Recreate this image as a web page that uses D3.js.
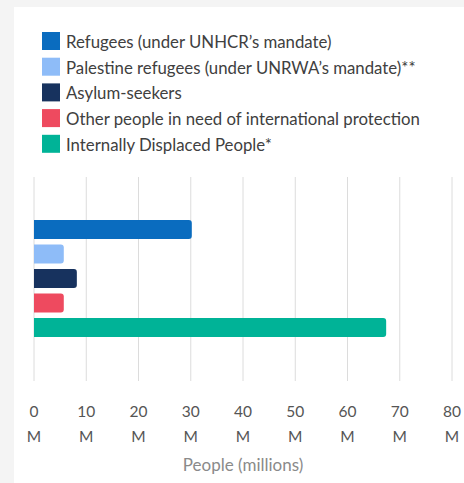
<!DOCTYPE html>
<html>
<head>
<meta charset="utf-8">
<script src="https://cdn.jsdelivr.net/npm/d3@7"></script>
<style>
  body { margin: 0; background: #f4f4f4; }
  svg { display: block; font-family: Lato, "Noto Sans", sans-serif; }
</style>
</head>
<body>
<div class="chart"></div>
<script>
const svgWidth = 464
const svgHeight = 483

// data (millions)
const categories = [
  "Refugees (under UNHCR’s mandate)",
  "Palestine refugees (under UNRWA’s mandate)**",
  "Asylum-seekers",
  "Other people in need of international protection",
  "Internally Displaced People*"
]
const values = [30.2, 5.7, 8.2, 5.7, 67.4]
const colors = ["#0a6cbf", "#8ebcf8", "#17325e", "#ee4a5f", "#00b397"]
const xTicks = [0, 10, 20, 30, 40, 50, 60, 70, 80]

let svg = d3
  .select(".chart")
  .append("svg")
  .attr("width", svgWidth)
  .attr("height", svgHeight)

// white card
svg.append("rect")
  .attr("x", 14)
  .attr("y", 7)
  .attr("width", svgWidth - 14)
  .attr("height", svgHeight - 7)
  .attr("fill", "#fff")

// legend
let legend = svg.append("g").attr("transform", "translate(42, 32)")
let rows = legend.selectAll("g")
  .data(categories)
  .enter()
  .append("g")
  .attr("transform", (d, i) => `translate(0, ${i * 25.7})`)

rows.append("rect")
  .attr("width", 18)
  .attr("height", 18)
  .attr("fill", (d, i) => colors[i])

rows.append("text")
  .attr("x", 24)
  .attr("y", 16)
  .attr("font-size", "16.8px")
  .attr("fill", "#404040")
  .text(d => d)

// scales
let x = d3.scaleLinear()
  .domain([0, 80])
  .range([34, 452])

let y = d3.scaleBand()
  .domain(categories)
  .range([214.5, 342.5])
  .padding(0.224)

// grid lines
svg.append("g")
  .selectAll("line")
  .data(xTicks)
  .enter()
  .append("line")
  .attr("x1", d => x(d))
  .attr("x2", d => x(d))
  .attr("y1", 177)
  .attr("y2", 381)
  .attr("stroke", "#dcdcdc")
  .attr("stroke-width", 1)

// bars, rounded on the right end only
function barPath(x0, x1, y0, h, r) {
  return `M${x0},${y0}H${x1 - r}Q${x1},${y0} ${x1},${y0 + r}` +
    `V${y0 + h - r}Q${x1},${y0 + h} ${x1 - r},${y0 + h}H${x0}Z`
}

svg.append("g")
  .selectAll("path")
  .data(values)
  .enter()
  .append("path")
  .attr("d", (d, i) => barPath(x(0), x(d), y(categories[i]), y.bandwidth(), 3))
  .attr("fill", (d, i) => colors[i])

// tick labels on two lines
let tickLabels = svg.append("g")
  .selectAll("text")
  .data(xTicks)
  .enter()
  .append("text")
  .attr("text-anchor", "middle")
  .attr("font-size", "15.5px")
  .attr("fill", "#555")

tickLabels.append("tspan")
  .attr("x", d => x(d))
  .attr("y", 417)
  .text(d => d)

tickLabels.append("tspan")
  .attr("x", d => x(d))
  .attr("y", 442)
  .text("M")

svg.append("text")
  .attr("x", (x(0) + x(80)) / 2)
  .attr("y", 471)
  .attr("text-anchor", "middle")
  .attr("font-size", "17px")
  .attr("fill", "#8a8a8a")
  .text("People (millions)")
</script>
</body>
</html>
